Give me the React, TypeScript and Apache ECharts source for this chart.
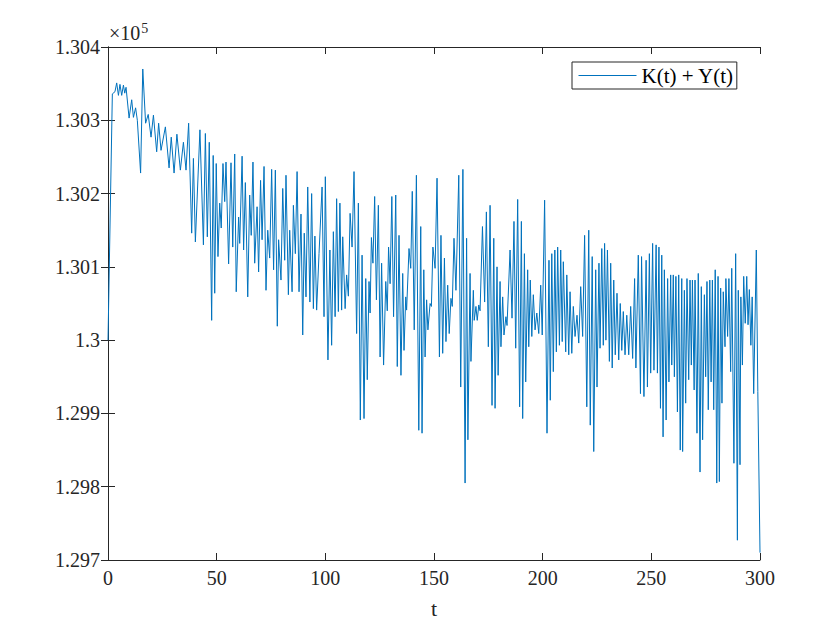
import React, { useEffect, useRef } from "react";
import * as echarts from "echarts";

// time stamps (t) and values of K(t)+Y(t)
const tValues = [
  0, 2.0, 3.2, 4.0, 4.8, 5.5, 6.3, 7.1, 7.7, 8.3, 9.7, 10.9, 11.7, 12.7, 13.5, 15.0, 16.0,
  17.3, 18.5, 19.8, 20.9, 22.4, 23.3, 24.4, 26.4, 28.1, 29.1, 30.4, 31.7, 33.3, 34.7, 35.9,
  37.1, 38.5, 39.3, 40.2, 42.3, 43.9, 44.8, 45.7, 46.6, 47.7, 48.4, 49.1, 49.8, 50.6, 51.4,
  52.1, 52.9, 53.7, 54.3, 55.5, 56.6, 57.4, 58.3, 59.0, 60.1, 60.6, 61.7, 62.4, 63.2, 64.3,
  65.2, 65.9, 66.7, 67.5, 68.6, 69.3, 70.2, 70.9, 71.8, 72.7, 73.5, 74.4, 75.3, 76.2, 77.0,
  77.9, 78.5, 79.6, 80.4, 81.3, 81.9, 83.0, 83.6, 84.7, 85.3, 86.2, 87.0, 87.9, 88.8, 89.6,
  90.3, 91.1, 91.9, 92.9, 93.7, 94.5, 95.2, 96.0, 97.1, 98.5, 99.4, 100.0, 101.2, 102.1,
  102.9, 103.7, 104.5, 105.2, 106.0, 106.7, 107.5, 108.0, 109.1, 109.8, 110.6, 111.4, 112.3,
  113.2, 114.4, 115.2, 116.1, 116.9, 117.8, 118.6, 119.3, 120.1, 120.6, 121.2, 121.9, 122.7,
  123.5, 124.4, 125.2, 125.9, 126.8, 127.8, 128.5, 129.1, 129.8, 130.6, 131.4, 132.4, 133.1,
  133.9, 134.8, 135.6, 136.2, 137.0, 137.4, 138.5, 139.3, 140.0, 140.9, 141.9, 143.0, 143.9,
  144.5, 145.3, 145.9, 146.6, 147.2, 148.2, 148.8, 149.5, 150.5, 151.4, 152.5, 153.2, 154.0,
  154.8, 155.5, 156.3, 157.0, 157.8, 158.4, 159.2, 160.1, 161.4, 162.3, 163.3, 164.3, 165.0,
  165.6, 166.6, 167.0, 168.1, 168.5, 169.3, 169.9, 170.6, 171.2, 172.3, 173.3, 174.1, 175.0,
  175.8, 176.7, 177.5, 178.1, 179.0, 179.5, 180.4, 180.8, 181.6, 182.2, 183.1, 183.6, 185.0,
  185.9, 186.8, 187.6, 188.5, 189.4, 190.2, 190.8, 191.6, 192.2, 193.1, 193.6, 194.3, 195.0,
  195.7, 196.5, 197.3, 198.2, 199.1, 199.8, 200.9, 202.0, 202.9, 203.5, 204.2, 204.9, 205.6,
  206.3, 206.9, 207.7, 208.3, 209.0, 209.5, 210.6, 211.1, 212.0, 212.6, 213.4, 214.1, 214.9,
  215.8, 216.6, 217.5, 218.4, 219.3, 220.3, 221.2, 221.9, 222.8, 223.5, 224.4, 225.0, 225.9,
  226.4, 227.2, 227.9, 228.5, 229.1, 229.8, 230.7, 231.3, 232.0, 232.7, 233.4, 234.2, 235.0,
  235.7, 236.4, 237.1, 237.9, 238.7, 239.6, 240.5, 241.4, 242.3, 242.9, 244.0, 245.0, 245.5,
  246.6, 247.6, 248.2, 249.1, 249.7, 250.6, 251.2, 252.2, 252.8, 253.5, 254.2, 254.8, 255.4,
  256.0, 256.8, 257.5, 258.1, 258.9, 259.4, 260.1, 260.6, 261.3, 262.0, 262.6, 263.3, 264.0,
  264.4, 265.2, 265.8, 266.4, 267.2, 267.8, 268.4, 268.9, 269.7, 270.1, 271.0, 271.6, 272.4,
  273.0, 273.6, 274.4, 275.0, 275.6, 276.2, 276.9, 277.5, 278.1, 278.7, 279.4, 280.1, 280.7,
  281.3, 281.9, 282.5, 283.1, 283.9, 284.3, 285.1, 285.7, 286.5, 287.0, 288.0, 288.8, 289.6,
  290.0, 290.8, 291.2, 291.9, 292.5, 293.2, 293.9, 294.5, 295.1, 295.8, 296.4, 297.1, 298.3,
  299.0, 300.0,
];

const kyValues = [
  130000, 130336, 130339, 130351, 130334, 130349, 130334, 130348, 130337, 130345, 130303,
  130328, 130304, 130317, 130300, 130228, 130370, 130296, 130308, 130277, 130307, 130257,
  130296, 130259, 130291, 130235, 130277, 130228, 130281, 130232, 130270, 130232, 130296,
  130146, 130248, 130134, 130287, 130130, 130282, 130141, 130270, 130027, 130252, 130064,
  130241, 130114, 130187, 130153, 130241, 130189, 130243, 130104, 130242, 130127, 130254,
  130066, 130168, 130132, 130251, 130123, 130215, 130059, 130198, 130143, 130243, 130105,
  130182, 130093, 130218, 130137, 130237, 130068, 130150, 130112, 130233, 130096, 130232,
  130019, 130137, 130082, 130207, 130109, 130225, 130062, 130150, 130066, 130184, 130118,
  130230, 130066, 130172, 130007, 130146, 130059, 130209, 130052, 130200, 130043, 130142,
  130041, 130118, 130209, 130032, 130223, 129973, 130123, 129993, 130148, 130032, 130193,
  130039, 130187, 130041, 130141, 130043, 130089, 130060, 130173, 130127, 130230, 130009,
  130187, 129891, 130116, 129893, 130084, 129946, 130080, 130037, 130140, 130105, 130196,
  130055, 130184, 129977, 130105, 129966, 130080, 130040, 130127, 130077, 130196, 130032,
  130198, 129964, 130143, 129952, 130091, 129986, 130059, 130041, 130125, 130098, 130203,
  130014, 130225, 129877, 130155, 129873, 130096, 129977, 130055, 130014, 130050, 130046,
  130127, 130098, 130221, 129977, 130143, 129982, 130112, 129998, 130075, 130009, 130057,
  130046, 130139, 130068, 130225, 129936, 130233, 129805, 130139, 129864, 130091, 129971,
  130068, 130027, 130046, 130027, 130048, 130040, 130155, 130052, 130175, 129991, 130184,
  129911, 130139, 129907, 130100, 129952, 130080, 129991, 130059, 130007, 130032, 130020,
  130123, 130030, 130162, 129989, 130192, 129909, 130162, 129893, 130118, 129943, 130096,
  129991, 130082, 130005, 130062, 130014, 130037, 130009, 130075, 130007, 130191, 129873,
  130109, 129918, 130118, 129957, 130123, 129984, 130127, 129993, 130123, 129998, 130107,
  129984, 130089, 129980, 130066, 129982, 130046, 130005, 130034, 129996, 130073, 130005,
  130143, 129909, 130150, 129884, 130114, 129848, 130096, 129936, 130105, 129989, 130125,
  129993, 130132, 130000, 130123, 129971, 130105, 129962, 130082, 129980, 130064, 129973,
  130050, 129986, 130039, 129980, 130034, 129980, 130046, 129975, 130084, 129962, 130116,
  129927, 130114, 129923, 130109, 129936, 130118, 129955, 130132, 129959, 130130, 129955,
  130127, 129907, 130116, 129868, 130096, 129891, 130084, 129943, 130089, 129966, 130089,
  129950, 130087, 129902, 130089, 129850, 130084, 129848, 130068, 129914, 130084, 129946,
  130082, 129966, 130082, 129932, 130082, 129873, 130091, 129820, 130073, 129864, 130062,
  129950, 130080, 129905, 130082, 129943, 130082, 129905, 130096, 129805, 130087, 129807,
  130071, 129914, 130066, 129991, 130084, 130005, 130084, 129957, 130098, 129832, 130118,
  129727, 130068, 129830, 130059, 129966, 130087, 130023, 130087, 130021, 130069, 129993,
  130059, 129927, 130123, 129930, 129710,
];

const yTicks = [129700, 129800, 129900, 130000, 130100, 130200, 130300, 130400];
const xTicks = [0, 50, 100, 150, 200, 250, 300];
const seriesName = "K(t) + Y(t)";
const exponentText = "5";

const FONT = "Liberation Serif";
const AX = "#262626";
const LINE = "#0072BD";

export default function App() {
  const ref = useRef<HTMLDivElement>(null);
  useEffect(() => {
    document.body.style.margin = "0";
    const chart = echarts.init(ref.current!, null, { renderer: "svg" });
    const data = tValues.map((t, i) => [t, kyValues[i]]);
    const yFmt = (v: number) => String(Number((v / 1e5).toFixed(3)));
    const common = {
      axisLine: { show: true, lineStyle: { color: AX, width: 1 } },
      axisTick: { show: true, inside: true, length: 7, lineStyle: { color: AX, width: 1 } },
      splitLine: { show: false },
    };
    chart.setOption({
      animation: false,
      backgroundColor: "#ffffff",
      grid: { left: 108, top: 47, width: 652, height: 513 },
      xAxis: [
        {
          type: "value",
          min: xTicks[0],
          max: xTicks[xTicks.length - 1],
          interval: 50,
          position: "bottom",
          ...common,
          axisLabel: { color: AX, fontFamily: FONT, fontSize: 20, margin: 8 },
          name: "t",
          nameLocation: "middle",
          nameGap: 37,
          nameTextStyle: { color: AX, fontFamily: FONT, fontSize: 22 },
        },
        {
          type: "value",
          min: xTicks[0],
          max: xTicks[xTicks.length - 1],
          interval: 50,
          position: "top",
          ...common,
          axisLabel: { show: false },
        },
      ],
      yAxis: [
        {
          type: "value",
          min: yTicks[0],
          max: yTicks[yTicks.length - 1],
          interval: 100,
          position: "left",
          ...common,
          axisLabel: { color: AX, fontFamily: FONT, fontSize: 20, margin: 8, formatter: yFmt },
        },
        {
          type: "value",
          min: yTicks[0],
          max: yTicks[yTicks.length - 1],
          interval: 100,
          position: "right",
          ...common,
          axisLabel: { show: false },
        },
      ],
      legend: {
        show: true,
        left: 572,
        top: 62,
        orient: "horizontal",
        backgroundColor: "#ffffff",
        borderColor: AX,
        borderWidth: 1,
        borderRadius: 0,
        padding: [3, 3, 3, 6],
        itemWidth: 58,
        itemHeight: 14,
        itemGap: 4,
        itemStyle: { opacity: 0 },
        lineStyle: { color: LINE, width: 1 },
        textStyle: { color: "#000000", fontFamily: FONT, fontSize: 21 },
        data: [seriesName],
      },
      graphic: [
        {
          type: "text",
          left: 109,
          top: 21,
          style: {
            text: "×10{sup|" + exponentText + "}",
            fill: AX,
            font: "20px " + FONT,
            rich: { sup: { fontSize: 14, fontFamily: FONT, fill: AX, verticalAlign: "top", padding: [0, 0, 10, 1] } },
          },
        },
      ],
      series: [
        {
          name: seriesName,
          type: "line",
          data,
          symbol: "none",
          showSymbol: false,
          color: LINE,
          lineStyle: { color: LINE, width: 1 },
          itemStyle: { color: LINE },
        },
      ],
    });
    return () => chart.dispose();
  }, []);
  return <div ref={ref} style={{ width: 840, height: 630 }} />;
}
